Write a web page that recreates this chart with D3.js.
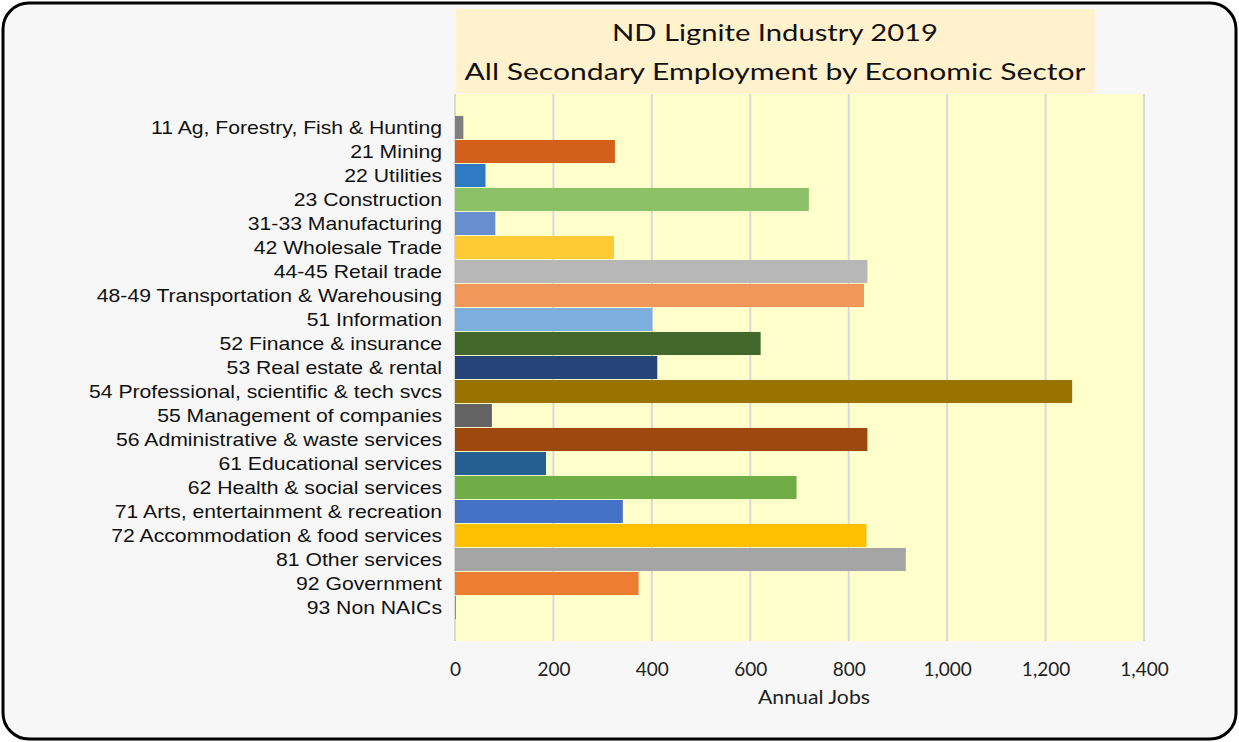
<!DOCTYPE html>
<html>
<head>
<meta charset="utf-8">
<script src="https://cdn.jsdelivr.net/npm/d3@7"></script>
<style>
  html, body { margin: 0; padding: 0; background: #ffffff; }
  svg { display: block; }
</style>
</head>
<body>
<svg id="chart" width="1239" height="742"></svg>
<script>
// ---- data ----
const categories = [
  "11 Ag, Forestry, Fish & Hunting",
  "21 Mining",
  "22 Utilities",
  "23 Construction",
  "31-33 Manufacturing",
  "42 Wholesale Trade",
  "44-45 Retail trade",
  "48-49 Transportation & Warehousing",
  "51 Information",
  "52 Finance & insurance",
  "53 Real estate & rental",
  "54 Professional, scientific & tech svcs",
  "55 Management of companies",
  "56 Administrative & waste services",
  "61 Educational services",
  "62 Health & social services",
  "71 Arts, entertainment & recreation",
  "72 Accommodation & food services",
  "81 Other services",
  "92 Government",
  "93 Non NAICs"
];
const annualJobs = [17, 325, 62, 719, 82, 323, 838, 831, 401, 621, 411, 1254, 75, 838, 185, 694, 341, 836, 916, 373, 2];
const barColors = [
  "#7f7f7f", "#d2601a", "#2e7bc4", "#8cc168", "#698ed0", "#ffca33", "#b7b7b7",
  "#f1975a", "#7cafdd", "#43682b", "#264478", "#997300", "#636363", "#9e480e",
  "#255e91", "#70ad47", "#4472c4", "#ffc000", "#a5a5a5", "#ed7d31", "#5b9bd5"
];
const xTicks = [0, 200, 400, 600, 800, 1000, 1200, 1400];
const titleLines = ["ND Lignite Industry 2019", "All Secondary Employment by Economic Sector"];
const xAxisTitle = "Annual Jobs";

// ---- layout ----
const svg = d3.select("#chart");
const plot = { left: 455, right: 1144, top: 94, bottom: 641 };

// outer frame
svg.append("rect")
  .attr("x", 3).attr("y", 3).attr("width", 1233).attr("height", 736)
  .attr("rx", 26).attr("ry", 26)
  .attr("fill", "#f7f7f7").attr("stroke", "#000").attr("stroke-width", 3);

// title box
svg.append("rect")
  .attr("x", 456).attr("y", 9).attr("width", 639).attr("height", 84)
  .attr("fill", "#fff2cc");

const titleWidths = [326, 621];
const titleBase = [41, 80];
titleLines.forEach((t, i) => {
  svg.append("text")
    .attr("x", 775).attr("y", titleBase[i])
    .attr("text-anchor", "middle")
    .attr("font-family", "Lato, 'Open Sans', sans-serif")
    .attr("font-size", 24)
    .attr("fill", "#111")
    .attr("textLength", titleWidths[i])
    .attr("lengthAdjust", "spacingAndGlyphs")
    .text(t);
});

// plot area
svg.append("rect")
  .attr("x", plot.left).attr("y", plot.top)
  .attr("width", plot.right - plot.left).attr("height", plot.bottom - plot.top)
  .attr("fill", "#ffffcc");

const x = d3.scaleLinear().domain([0, 1400]).range([plot.left, plot.right]);
const y = d3.scaleBand().domain(categories).range([plot.top, plot.bottom])
  .paddingInner(0.04).paddingOuter(0.915).align(0.5);

// gridlines
svg.append("g").selectAll("line").data(xTicks).join("line")
  .attr("x1", d => x(d)).attr("x2", d => x(d))
  .attr("y1", plot.top).attr("y2", plot.bottom)
  .attr("stroke", "#d9d9d9").attr("stroke-width", 2);

// bars
const data = categories.map((c, i) => ({ c, v: annualJobs[i], col: barColors[i] }));
svg.append("g").selectAll("rect").data(data).join("rect")
  .attr("x", x(0))
  .attr("y", d => y(d.c))
  .attr("width", d => Math.max(1, x(d.v) - x(0)))
  .attr("height", y.bandwidth())
  .attr("fill", d => d.col);

// category labels
const labG = svg.append("g");
const labs = labG.selectAll("text").data(categories).join("text")
  .attr("text-anchor", "end")
  .attr("font-family", "'Liberation Sans', Arial, sans-serif")
  .attr("font-size", 19)
  .attr("fill", "#111")
  .attr("dy", "0.36em")
  .text(d => d);
// horizontal stretch factor derived from the reference glyph proportions
const refNode = labs.filter(d => d === "55 Management of companies").node();
const sx = 285 / refNode.getComputedTextLength();
labs.attr("transform", d => `translate(442,${y(d) + y.bandwidth() / 2}) scale(${sx},1)`);

// x axis
const xAxis = d3.axisBottom(x).tickValues(xTicks).tickFormat(d3.format(",")).tickSize(0).tickPadding(0);
const ax = svg.append("g").attr("transform", `translate(0,${plot.bottom})`).call(xAxis);
ax.select(".domain").remove();
ax.selectAll("text")
  .attr("font-family", "Lato, 'Open Sans', sans-serif")
  .attr("font-size", 19)
  .attr("fill", "#222")
  .attr("dy", null)
  .attr("y", 35);

// axis title
svg.append("text")
  .attr("x", 814).attr("y", 704)
  .attr("text-anchor", "middle")
  .attr("font-family", "Lato, 'Open Sans', sans-serif")
  .attr("font-size", 19)
  .attr("fill", "#222")
  .attr("textLength", 112)
  .attr("lengthAdjust", "spacingAndGlyphs")
  .text(xAxisTitle);
</script>
</body>
</html>
